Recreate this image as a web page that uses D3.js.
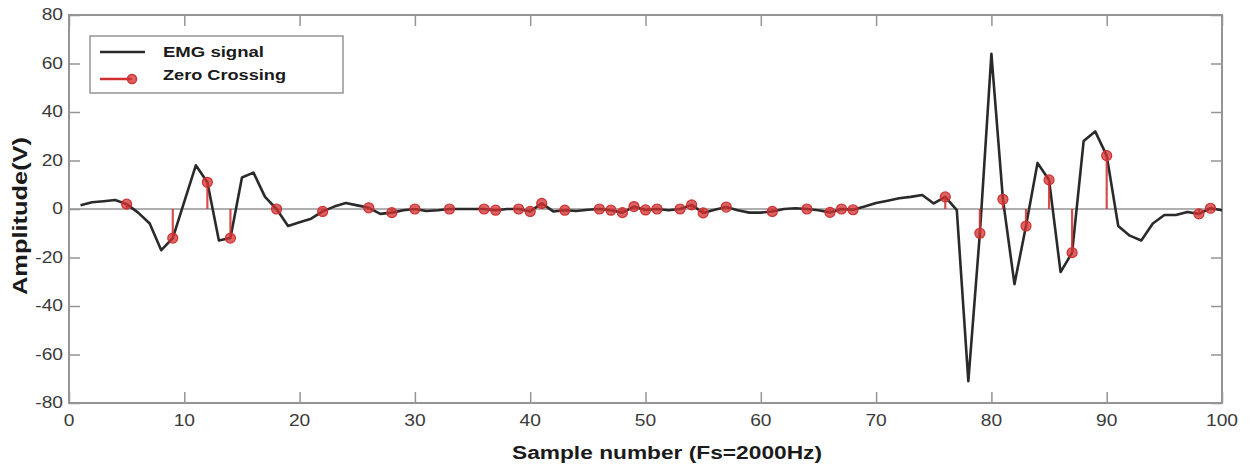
<!DOCTYPE html>
<html>
<head>
<meta charset="utf-8">
<script src="https://cdn.jsdelivr.net/npm/d3@7"></script>
<style>
  body { margin: 0; background: #fff; }
  svg { display: block; font-family: Arial, "Liberation Sans", sans-serif; }
</style>
</head>
<body>
<svg id="chart" width="1250" height="465"></svg>
<script>
// EMG signal, sample 1..100
const samples = d3.range(1, 101);
const emgValues = [
  1.5, 2.8, 3.2, 3.7, 2, -1.5, -6, -17, -12, 3,
  18, 11, -13, -12, 13, 15, 5, 0, -7, -5.5,
  -4, -1, 1, 2.5, 1.5, 0.5, -2, -1.5, -0.5, 0,
  -0.8, -0.5, 0, 0, 0, 0, -0.5, 0, 0, -1,
  2.3, -1, -0.5, -0.8, -0.3, 0, -0.5, -1.5, 1, -0.4,
  0, -0.5, 0, 1.7, -1.6, -0.3, 0.8, -0.5, -1.5, -1.5,
  -1, 0, 0.3, 0, -0.5, -1.4, 0, -0.3, 1, 2.5,
  3.4, 4.4, 5, 5.8, 2.3, 5, -0.5, -71, -10, 64,
  4, -31, -7, 19, 12, -26, -18, 28, 32, 22,
  -7, -11, -13, -6, -2.5, -2.5, -1.2, -2, 0.3, -0.5
];
// samples flagged as zero crossings
const zeroCrossings = [5, 9, 12, 14, 18, 22, 26, 28, 30, 33, 36, 37, 39, 40, 41, 43,
  46, 47, 48, 49, 50, 51, 53, 54, 55, 57, 61, 64, 66, 67, 68, 76, 79, 81, 83, 85,
  87, 90, 98, 99];
const xTicks = [0, 10, 20, 30, 40, 50, 60, 70, 80, 90, 100];
const yTicks = [-80, -60, -40, -20, 0, 20, 40, 60, 80];
const legendLabels = ["EMG signal", "Zero Crossing"];

const data = samples.map((s, i) => ({ x: s, y: emgValues[i] }));
const zc = zeroCrossings.map(s => ({ x: s, y: emgValues[s - 1] }));

const width = 1250, height = 465;
const margin = { top: 15, right: 28, bottom: 62, left: 69 };
const axisColor = "#959595";
const red = "#d03030";

const svg = d3.select("#chart");

const x = d3.scaleLinear().domain([0, 100]).range([margin.left, width - margin.right]);
const y = d3.scaleLinear().domain([-80, 80]).range([height - margin.bottom, margin.top]);

// ticks on all four sides, pointing inward
const gx = svg.append("g").attr("transform", `translate(0,${y(-80)})`)
  .call(d3.axisTop(x).tickValues(xTicks).tickSize(11).tickFormat(""));
const gxTop = svg.append("g").attr("transform", `translate(0,${y(80)})`)
  .call(d3.axisBottom(x).tickValues(xTicks).tickSize(11).tickFormat(""));
const gy = svg.append("g").attr("transform", `translate(${x(0)},0)`)
  .call(d3.axisRight(y).tickValues(yTicks).tickSize(11).tickFormat(""));
const gyRight = svg.append("g").attr("transform", `translate(${x(100)},0)`)
  .call(d3.axisLeft(y).tickValues(yTicks).tickSize(11).tickFormat(""));
[gx, gxTop, gy, gyRight].forEach(g => {
  g.select(".domain").remove();
  g.selectAll("line").attr("stroke", axisColor).attr("stroke-width", 1.5);
});

// tick labels
svg.append("g").selectAll("text")
  .data(xTicks)
  .join("text")
    .attr("transform", d => `translate(${x(d)},${y(-80) + 23}) scale(1.2,1)`)
    .attr("text-anchor", "middle")
    .attr("font-size", 16)
    .attr("fill", "#3a3a3a")
    .text(d => d);

svg.append("g").selectAll("text")
  .data(yTicks)
  .join("text")
    .attr("transform", d => `translate(${x(0) - 6},${y(d) + 5}) scale(1.2,1)`)
    .attr("text-anchor", "end")
    .attr("font-size", 16)
    .attr("fill", "#3a3a3a")
    .text(d => d);

// box
svg.append("rect")
  .attr("x", x(0)).attr("y", y(80))
  .attr("width", x(100) - x(0)).attr("height", y(-80) - y(80))
  .attr("fill", "none").attr("stroke", axisColor).attr("stroke-width", 2);

// stem baseline
svg.append("line")
  .attr("x1", x(0)).attr("x2", x(100))
  .attr("y1", y(0)).attr("y2", y(0))
  .attr("stroke", axisColor).attr("stroke-width", 1.5);

// signal
const line = d3.line().x(d => x(d.x)).y(d => y(d.y));
svg.append("path")
  .datum(data)
  .attr("d", line)
  .attr("fill", "none")
  .attr("stroke", "#2a2a2a")
  .attr("stroke-width", 2.6)
  .attr("stroke-linejoin", "round");

// zero crossing stems
svg.append("g").selectAll("line")
  .data(zc)
  .join("line")
    .attr("x1", d => x(d.x)).attr("x2", d => x(d.x))
    .attr("y1", y(0)).attr("y2", d => y(d.y))
    .attr("stroke", red).attr("stroke-width", 2.2).attr("opacity", 0.85);

svg.append("g").selectAll("circle")
  .data(zc)
  .join("circle")
    .attr("cx", d => x(d.x)).attr("cy", d => y(d.y))
    .attr("r", 5)
    .attr("fill", red).attr("fill-opacity", 0.75)
    .attr("stroke", red).attr("stroke-width", 1.2);

// axis titles
svg.append("text")
  .attr("x", 667).attr("y", 459)
  .attr("text-anchor", "middle")
  .attr("font-size", 18).attr("font-weight", "bold")
  .attr("fill", "#1a1a1a")
  .attr("textLength", 310).attr("lengthAdjust", "spacingAndGlyphs")
  .text("Sample number (Fs=2000Hz)");

svg.append("text")
  .attr("transform", "translate(27,216) rotate(-90)")
  .attr("text-anchor", "middle")
  .attr("font-size", 20).attr("font-weight", "bold")
  .attr("fill", "#1a1a1a")
  .attr("textLength", 158).attr("lengthAdjust", "spacingAndGlyphs")
  .text("Amplitude(V)");

// legend
const legend = svg.append("g");
legend.append("rect")
  .attr("x", 90).attr("y", 36).attr("width", 253).attr("height", 57)
  .attr("fill", "#fff").attr("stroke", axisColor).attr("stroke-width", 1.5);
legend.append("line")
  .attr("x1", 100).attr("x2", 145).attr("y1", 52).attr("y2", 52)
  .attr("stroke", "#2a2a2a").attr("stroke-width", 2.6);
legend.append("line")
  .attr("x1", 100).attr("x2", 132).attr("y1", 79).attr("y2", 79)
  .attr("stroke", red).attr("stroke-width", 2.5);
legend.append("circle")
  .attr("cx", 132).attr("cy", 79).attr("r", 4.5)
  .attr("fill", red).attr("fill-opacity", 0.75)
  .attr("stroke", red).attr("stroke-width", 1.5);
legend.selectAll("text.lab")
  .data(legendLabels)
  .join("text")
    .attr("class", "lab")
    .attr("x", 163)
    .attr("y", (d, i) => 57 + i * 23)
    .attr("font-size", 14).attr("font-weight", "bold")
    .attr("fill", "#1a1a1a")
    .attr("textLength", (d, i) => i === 0 ? 101 : 123)
    .attr("lengthAdjust", "spacingAndGlyphs")
    .text(d => d);
</script>
</body>
</html>
